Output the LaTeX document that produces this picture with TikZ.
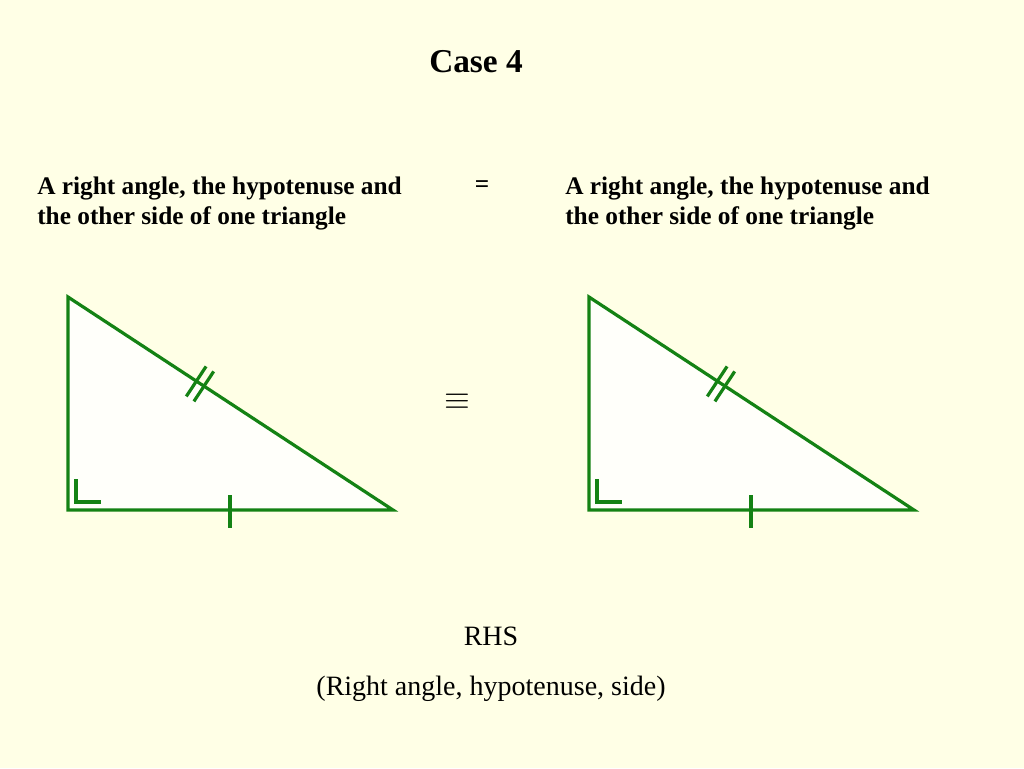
\documentclass[tikz,border=0pt]{standalone}
\usepackage{fontspec}
\setmainfont{Liberation Serif}
\definecolor{bg}{RGB}{255,255,230}
\definecolor{gr}{RGB}{20,130,20}
\definecolor{tri}{RGB}{255,255,250}
\begin{document}
\begin{tikzpicture}[x=0.75pt,y=-0.75pt,
  edge/.style={draw=gr,line width=2.4pt},
  tickmark/.style={draw=gr,line width=2.4pt},
  lbl/.style={font=\bfseries\fontsize{19}{22.5}\selectfont,align=left,anchor=north west,inner sep=0pt}]
\useasboundingbox (0,0) rectangle (1024,768);
\fill[bg] (0,0) rectangle (1024,768);
\node[font=\bfseries\fontsize{25}{30}\selectfont] (t) at (476,62) {Case 4};
\node[lbl] (l) at (37,177) {A right angle, the hypotenuse and\\the other side of one triangle};
\node[lbl] (r) at (565,177) {A right angle, the hypotenuse and\\the other side of one triangle};
\node[font=\bfseries\fontsize{19}{22}\selectfont] (eq) at (482,187) {=};
\node[font=\fontsize{29}{32}\selectfont] (cong) at (457,402) {$\equiv$};
\node[font=\fontsize{21}{25}\selectfont] (rhs) at (491,636) {RHS};
\node[font=\fontsize{21}{25}\selectfont] (full) at (491,689) {(Right angle, hypotenuse, side)};
\foreach \dx/\nm in {0/A,521/B}{
  \begin{scope}[xshift=\dx*0.75pt]
  \coordinate (\nm1) at (68,297); \coordinate (\nm2) at (68,510); \coordinate (\nm3) at (393,510);
  \filldraw[edge,fill=tri] (\nm1) -- (\nm2) -- (\nm3) -- cycle;
  \draw[tickmark] (76,479) -- (76,502) -- (101,502);
  \draw[tickmark] (230,495) -- (230,528);
  \draw[tickmark] (206.1,366.4) -- (186.3,396.4);
  \draw[tickmark] (213.7,371.4) -- (193.9,401.4);
  \end{scope}}
\end{tikzpicture}
\end{document}
